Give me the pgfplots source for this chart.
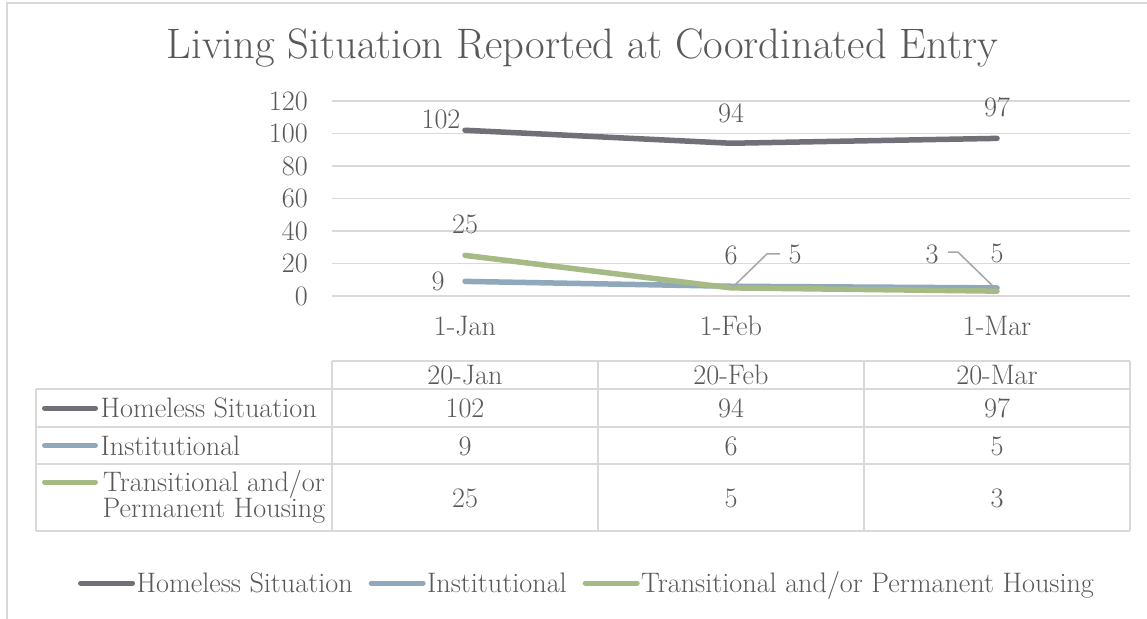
\documentclass[border=0pt]{standalone}
\usepackage{pgfplots}
\pgfplotsset{compat=1.18}
\definecolor{hsgray}{RGB}{112,112,120}
\definecolor{instblue}{RGB}{143,168,188}
\definecolor{trgreen}{RGB}{166,186,134}
\definecolor{txtgray}{RGB}{89,89,89}
\definecolor{gridgray}{RGB}{217,217,217}
\definecolor{leadgray}{RGB}{166,166,166}
\newcommand\bodyfont{\fontsize{28.3}{34}\selectfont}

\begin{document}
\begin{tikzpicture}[x=1bp,y=1bp,
  lbl/.style={text=txtgray, font=\bodyfont, inner sep=0pt},
  tab/.style={gridgray, line width=1.5bp}]
\useasboundingbox (0,0) rectangle (1147,-619);
\fill[white] (0,0) rectangle (1147,-619);
\draw[gridgray, line width=2bp] (7,-625) -- (7,-3) -- (1150,-3);
\node[anchor=base, text=txtgray, inner sep=0pt, font=\fontsize{42.8}{50}\selectfont] at (582.5,-59) {Living Situation Reported at Coordinated Entry};

\begin{axis}[
  at={(332bp,-296bp)}, anchor=south west,
  scale only axis, width=798bp, height=195bp,
  xmin=-0.5, xmax=2.5, ymin=0, ymax=120,
  xtick={0,1,2}, xticklabels={1-Jan,1-Feb,1-Mar},
  ytick={0,20,...,120},
  ymajorgrids, grid style={gridgray, line width=1.5bp},
  axis line style={draw=none},
  major tick length=0pt,
  /pgf/number format/assume math mode=true,
  tick label style={font=\bodyfont, text=txtgray},
  yticklabel style={anchor=east, inner sep=0pt, xshift=-24bp},
  xticklabel style={anchor=base, inner sep=0pt, yshift=-39bp},
  clip=false,
  every axis plot/.append style={line width=5.5bp, line cap=round, line join=round},
  legend columns=3,
  legend image code/.code={\draw[line width=5bp, line cap=round] (2.5bp,0bp) -- (54.5bp,0bp);},
  legend style={draw=none, fill=none, inner sep=0pt,
    at={(axis description cs:0.3183,-1.472)}, anchor=center,
    nodes={inner sep=0pt, text=txtgray, font=\bodyfont},
    /tikz/every odd column/.append style={column sep=1.5bp},
    /tikz/every even column/.append style={column sep=16bp}},
]
\addplot[hsgray] coordinates {(0,102) (1,94) (2,97)};
\addlegendentry{Homeless Situation}
\addplot[instblue] coordinates {(0,9) (1,6) (2,5)};
\addlegendentry{Institutional}
\addplot[trgreen] coordinates {(0,25) (1,5) (2,3)};
\addlegendentry{Transitional and/or Permanent Housing}

% data labels
\node[lbl, xshift=-24bp, yshift=11bp] at (axis cs:0,102) {102};
\node[lbl, yshift=30bp] at (axis cs:1,94) {94};
\node[lbl, yshift=31bp] at (axis cs:2,97) {97};
\node[lbl, xshift=-27bp] at (axis cs:0,9) {9};
\node[lbl, yshift=31bp] at (axis cs:1,6) {6};
\node[lbl, yshift=34bp] at (axis cs:2,5) {5};
\node[lbl, yshift=31bp] at (axis cs:0,25) {25};
\node[lbl, xshift=64bp, yshift=33bp] at (axis cs:1,5) {5};
\node[lbl, xshift=-65bp, yshift=37bp] at (axis cs:2,3) {3};
\draw[leadgray, line width=1.5bp] (axis cs:1,5) ++(2bp,1bp) -- ++(34bp,33bp) -- ++(13bp,0bp);
\draw[leadgray, line width=1.5bp] (axis cs:2,3) ++(-49bp,39bp) -- ++(10bp,0bp) -- ++(37bp,-36bp);
\end{axis}

% data table
\draw[tab] (332,-361) -- (1130,-361);
\foreach \yy in {389,427,464,531} \draw[tab] (36,-\yy) -- (1130,-\yy);
\foreach \xx in {332,598,864,1130} \draw[tab] (\xx,-361) -- (\xx,-531);
\draw[tab] (36,-389) -- (36,-531);

\node[lbl, anchor=base] at (465,-384) {20-Jan};
\node[lbl, anchor=base] at (731,-384) {20-Feb};
\node[lbl, anchor=base] at (997,-384) {20-Mar};

\node[lbl, anchor=base] at (465,-417.5) {102};
\node[lbl, anchor=base] at (731,-417.5) {94};
\node[lbl, anchor=base] at (997,-417.5) {97};
\node[lbl, anchor=base] at (465,-455) {9};
\node[lbl, anchor=base] at (731,-455) {6};
\node[lbl, anchor=base] at (997,-455) {5};
\node[lbl, anchor=base] at (465,-507) {25};
\node[lbl, anchor=base] at (731,-507) {5};
\node[lbl, anchor=base] at (997,-507) {3};

\draw[hsgray, line width=5bp, line cap=round] (44.5,-408) -- (95.5,-408);
\draw[instblue, line width=5bp, line cap=round] (44.5,-445.5) -- (95.5,-445.5);
\draw[trgreen, line width=5bp, line cap=round] (44.5,-482) -- (95.5,-482);
\node[lbl, anchor=base west] at (100.5,-417.5) {Homeless Situation};
\node[lbl, anchor=base west] at (100.5,-455) {Institutional};
\node[lbl, anchor=base] at (214,-491) {Transitional and/or};
\node[lbl, anchor=base] at (214,-517) {Permanent Housing};
\end{tikzpicture}
\end{document}
